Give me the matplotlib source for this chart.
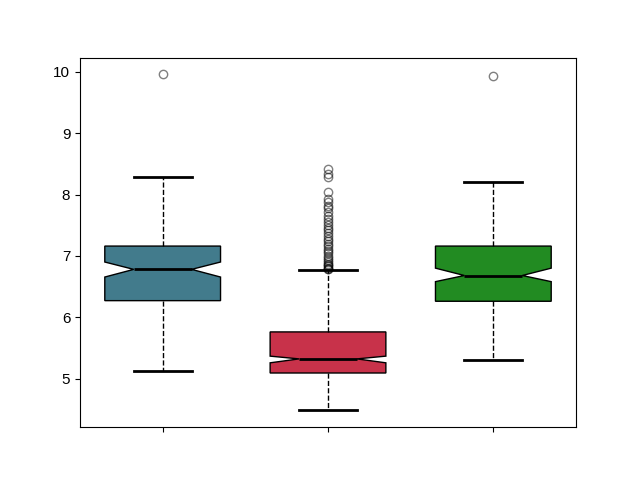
import matplotlib
matplotlib.use("Agg")
import matplotlib.pyplot as plt

plt.rcParams['font.family'] = ['Liberation Sans', 'DejaVu Sans']

# box statistics
q1 = [6.27, 5.09, 6.26]
med = [6.78, 5.32, 6.68]
q3 = [7.16, 5.76, 7.16]
notch_lo = [6.655, 5.256, 6.58]
notch_hi = [6.90, 5.365, 6.80]
whislo = [5.13, 4.48, 5.31]
whishi = [8.28, 6.77, 8.21]
fliers = [
    [9.96],
    [8.41, 8.33, 8.28, 8.04, 7.93, 7.88, 7.82, 7.78, 7.72, 7.65, 7.60, 7.55,
     7.50, 7.45, 7.42, 7.38, 7.33, 7.28, 7.24, 7.20, 7.16, 7.12, 7.08, 7.04,
     7.00, 6.96, 6.93, 6.90, 6.87, 6.85, 6.83, 6.81, 6.79, 6.78],
    [9.93],
]
colors = ['#427b8c', '#c8324a', '#228b22']

stats = []
for i in range(3):
    stats.append(dict(q1=q1[i], med=med[i], q3=q3[i], cilo=notch_lo[i],
                      cihi=notch_hi[i], whislo=whislo[i], whishi=whishi[i],
                      fliers=fliers[i]))

fig, ax = plt.subplots(figsize=(6.4, 4.8), dpi=100)
bp = ax.bxp(stats, shownotches=True, patch_artist=True, widths=0.7,
            boxprops=dict(edgecolor='black', linewidth=1),
            medianprops=dict(color='black', linewidth=2),
            whiskerprops=dict(color='black', linestyle='--', linewidth=1),
            capprops=dict(color='black', linewidth=2),
            flierprops=dict(marker='o', markerfacecolor='none',
                            markeredgecolor='black', alpha=0.5, markersize=6))
for patch, c in zip(bp['boxes'], colors):
    patch.set_facecolor(c)

ax.set_xticks([1, 2, 3])
ax.set_xticklabels(['', '', ''])
ax.tick_params(labelsize=11)

fig.savefig('out.png')
